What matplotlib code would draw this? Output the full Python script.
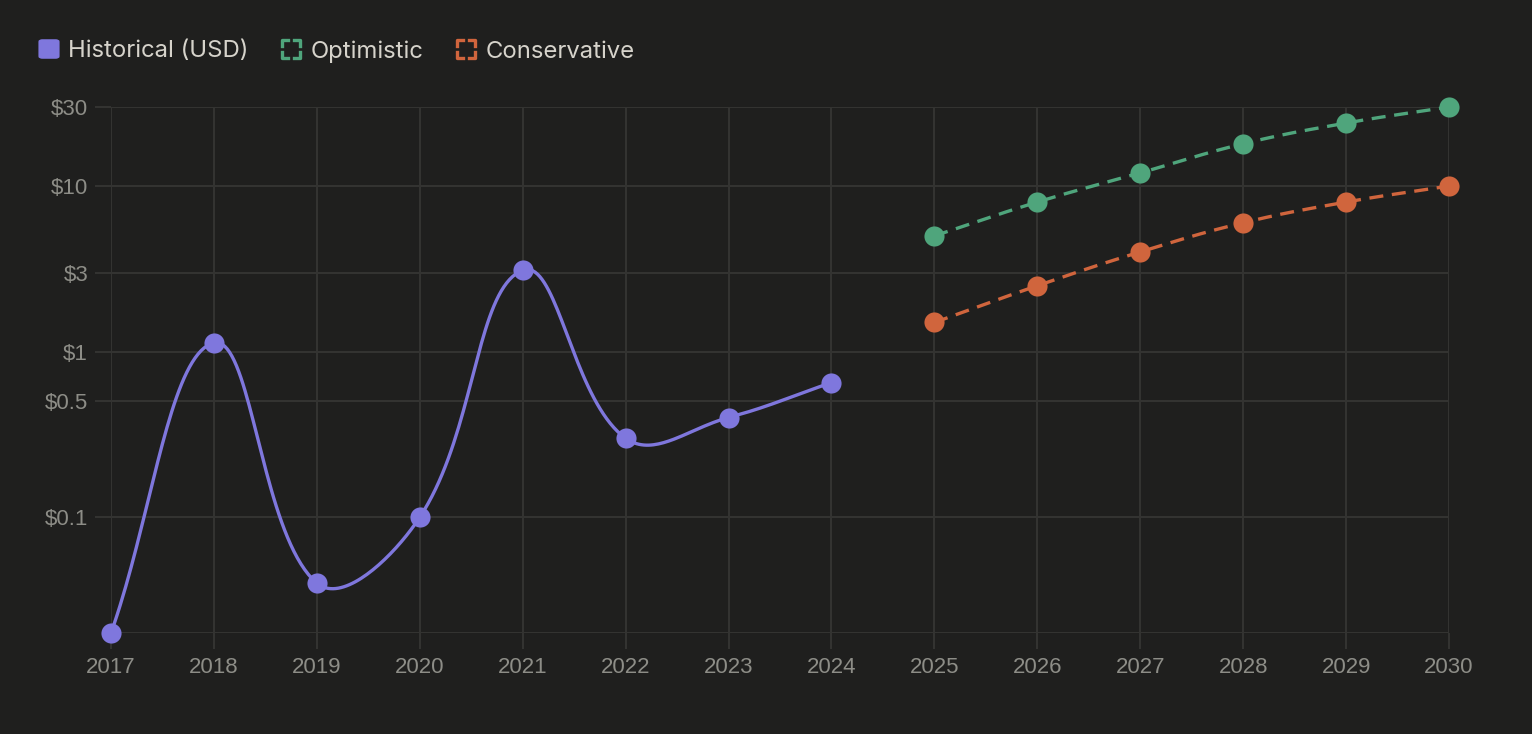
import numpy as np
import matplotlib
matplotlib.use("Agg")
import matplotlib.pyplot as plt
from matplotlib.patches import FancyBboxPatch
from matplotlib.lines import Line2D

# data
hist_years = [2017, 2018, 2019, 2020, 2021, 2022, 2023, 2024]
hist_price = [0.02, 1.13, 0.04, 0.10, 3.1, 0.30, 0.40, 0.65]
proj_years = [2025, 2026, 2027, 2028, 2029, 2030]
optimistic = [5.0, 8.0, 12.0, 18.0, 24.0, 30.0]
conservative = [1.5, 2.5, 4.0, 6.0, 8.0, 10.0]
y_ticks = [0.1, 0.5, 1, 3, 10, 30]
y_labels = ["$0.1", "$0.5", "$1", "$3", "$10", "$30"]
x_ticks = list(range(2017, 2031))

BG = "#1f1f1e"
GRID = "#343432"
TICK_TXT = "#8d8d87"
LEG_TXT = "#d6d3cb"
PURPLE = "#7f77dd"
GREEN = "#4fa57c"
ORANGE = "#d0653d"

W, H = 1532, 734
fig = plt.figure(figsize=(W / 100, H / 100), dpi=100, facecolor=BG)
ax = fig.add_axes([111 / W, 1 - 633 / H, (1449 - 111) / W, (633 - 107) / H])
ax.set_facecolor(BG)
ax.set_yscale("log")
ax.set_xlim(2017, 2030)
ax.set_ylim(0.02, 30)
ax.minorticks_off()
ax.set_yticks(y_ticks)
ax.set_yticklabels(y_labels)
ax.set_xticks(x_ticks)
ax.set_xticklabels([str(x) for x in x_ticks])
for s in ax.spines.values():
    s.set_visible(False)
ax.grid(True, color=GRID, linewidth=1.4)
ax.axhline(0.02, color=GRID, linewidth=1.4, zorder=0.5)
ax.set_axisbelow(True)
ax.tick_params(axis="both", length=11.5, width=1.4, color=GRID,
               labelcolor=TICK_TXT, labelsize=16)
ax.tick_params(axis="y", pad=5)
ax.tick_params(axis="x", pad=6)
for lab in ax.get_xticklabels() + ax.get_yticklabels():
    lab.set_fontfamily("Liberation Sans")


def spline(xs, ys, t=0.4, steps=40):
    # chart.js-style bezier spline, computed in pixel space
    pts = ax.transData.transform(np.column_stack([xs, ys]))
    n = len(pts)
    cp_prev = pts.copy()
    cp_next = pts.copy()
    for i in range(n):
        prev = pts[i - 1] if i > 0 else pts[i]
        nxt = pts[i + 1] if i < n - 1 else pts[i]
        d01 = np.hypot(*(pts[i] - prev))
        d12 = np.hypot(*(nxt - pts[i]))
        tot = d01 + d12
        s01 = d01 / tot if tot else 0
        s12 = d12 / tot if tot else 0
        cp_prev[i] = pts[i] - t * s01 * (nxt - prev)
        cp_next[i] = pts[i] + t * s12 * (nxt - prev)
    bb = ax.bbox
    for cp in (cp_prev, cp_next):
        cp[:, 0] = np.clip(cp[:, 0], bb.x0, bb.x1)
        cp[:, 1] = np.clip(cp[:, 1], bb.y0, bb.y1)
    u = np.linspace(0, 1, steps)[:, None]
    out = [pts[:1]]
    for i in range(n - 1):
        p0, p1, p2, p3 = pts[i], cp_next[i], cp_prev[i + 1], pts[i + 1]
        seg = ((1 - u) ** 3 * p0 + 3 * (1 - u) ** 2 * u * p1
               + 3 * (1 - u) * u ** 2 * p2 + u ** 3 * p3)
        out.append(seg[1:])
    data = ax.transData.inverted().transform(np.vstack(out))
    return data[:, 0], data[:, 1]


sx, sy = spline(hist_years, hist_price)
ax.plot(sx, sy, color=PURPLE, lw=2.4, solid_capstyle="round", clip_on=False, zorder=3)
ax.plot(hist_years, hist_price, "o", color=PURPLE, ms=14.5, mew=0, clip_on=False, zorder=4)

for vals, col in [(optimistic, GREEN), (conservative, ORANGE)]:
    sx, sy = spline(proj_years, vals)
    ax.plot(sx, sy, color=col, lw=2.4, dashes=(4.2, 2.6), dash_capstyle="butt",
            clip_on=False, zorder=3)
    ax.plot(proj_years, vals, "o", color=col, ms=14.5, mew=0, clip_on=False, zorder=4)

# legend drawn by hand (pixel coordinates, y from bottom)
renderer = fig.canvas.get_renderer()
cy = H - 49
sq = 18
x = 40


def corners(x0, col):
    y0 = cy - sq / 2
    a = 6
    segs = [
        [(x0, y0 + a), (x0, y0), (x0 + a, y0)],
        [(x0 + sq - a, y0), (x0 + sq, y0), (x0 + sq, y0 + a)],
        [(x0 + sq, y0 + sq - a), (x0 + sq, y0 + sq), (x0 + sq - a, y0 + sq)],
        [(x0 + a, y0 + sq), (x0, y0 + sq), (x0, y0 + sq - a)],
    ]
    for sgm in segs:
        xs, ys = zip(*sgm)
        fig.add_artist(Line2D(np.array(xs) / W, np.array(ys) / H, color=col, lw=2.4,
                              transform=fig.transFigure, solid_joinstyle="round"))


items = [("Historical (USD)", PURPLE, True), ("Optimistic", GREEN, False),
         ("Conservative", ORANGE, False)]
for label, col, filled in items:
    if filled:
        fig.add_artist(FancyBboxPatch(((x + 1) / W, (cy - sq / 2 + 1) / H),
                                      (sq - 2) / W, (sq - 2) / H,
                                      boxstyle="round,pad=0.001,rounding_size=0.002",
                                      transform=fig.transFigure, facecolor=col,
                                      edgecolor=col, lw=1.5))
    else:
        corners(x, col)
    txt = fig.text((x + sq + 10) / W, cy / H, label, color=LEG_TXT, fontsize=17.2,
                   fontfamily="Inter", va="center_baseline", ha="left")
    bb = txt.get_window_extent(renderer)
    x = bb.x1 + 34

fig.savefig("out.png", dpi=100, facecolor=BG)
